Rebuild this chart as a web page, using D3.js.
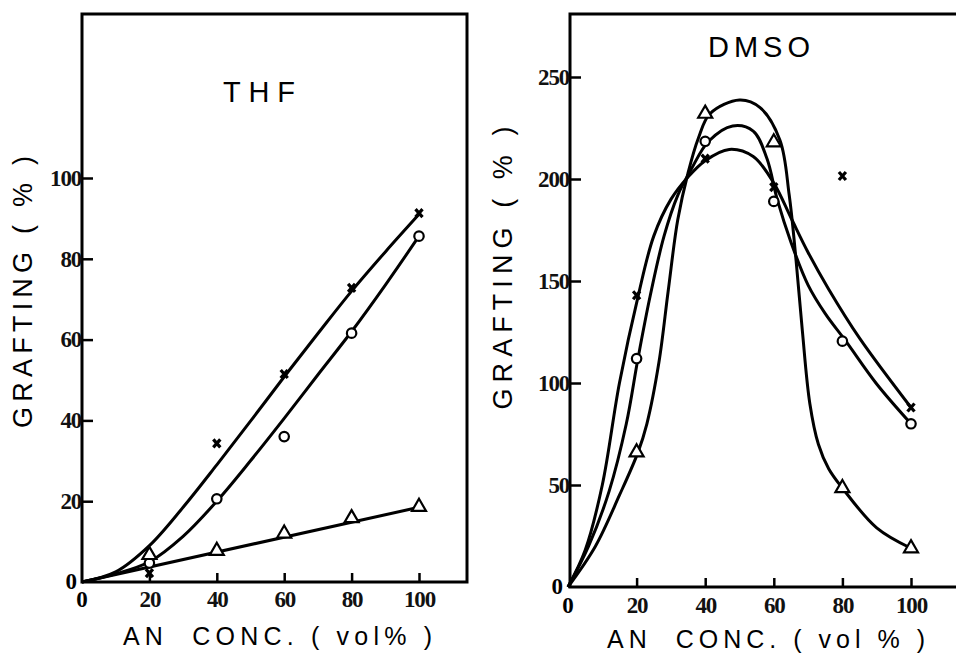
<!DOCTYPE html>
<html>
<head>
<meta charset="utf-8">
<script src="https://cdn.jsdelivr.net/npm/d3@7"></script>
<style>
  body { margin: 0; background: #fff; }
  svg { display: block; }
</style>
</head>
<body>
<div id="chart"></div>
<script>
// AN concentration (vol%) of the measured points
const anConc = [20, 40, 60, 80, 100];

// THF panel, grafting (%)
const thfCross = [2.2, 34.3, 51.5, 72.8, 91.3];
const thfCircle = [4.7, 20.6, 36, 61.6, 85.6];
const thfTriangle = [6.7, 7.7, 12, 15.8, 18.6];
// the hand drawn curves as [conc, grafting]
const thfCrossCurve = [[0, 0], [10, 2.5], [20, 9], [30, 18.5], [40, 29], [50, 39.8], [60, 50.8], [70, 61.5], [80, 72], [90, 81.7], [100, 91]];
const thfCircleCurve = [[0, 0], [10, 2], [20, 5], [30, 11.3], [40, 20], [50, 30], [60, 40.5], [70, 51.3], [80, 62], [90, 73.5], [100, 85.6]];
const thfTriangleCurve = [[0, 0], [100, 18.5]];

// DMSO panel, grafting (%)
const dmsoCross = [143, 210, 196, 201.5, 88];
const dmsoCircle = [112, 218.5, 189, 120.5, 80];
const dmsoTriangle = [66, 232, 218, 48.5, 19];
const dmsoCrossCurve = [[0, 0], [5, 18], [10, 50], [15, 100], [20.5, 143], [25, 172], [30, 190], [35, 201], [40, 209], [47, 214.5], [54, 211], [60, 198], [65, 181], [70, 164], [76, 146], [85, 122], [100, 88]];
const dmsoCircleCurve = [[0, 0], [6, 20], [12, 47], [17, 80], [20.4, 112], [24, 143], [28, 172], [32, 192], [36, 205], [41, 218.5], [48, 226], [54, 223.5], [58, 210], [61, 190], [65, 169], [70, 148], [75, 134], [81, 120.5], [90, 99.5], [100, 80]];
const dmsoTriangleCurve = [[0, 0], [8, 20], [15, 45], [20.4, 66], [23, 80], [26.5, 110], [29.2, 145], [32, 180], [35, 203], [38, 220], [41.4, 232], [50, 238.7], [56, 235], [61.8, 219], [64.5, 192], [66.5, 160], [68.3, 126], [70.5, 90], [73, 70], [76, 58], [80, 48.5], [90, 29], [100, 19]];

// tick labels
const thfYTicks = [20, 40, 60, 80, 100];
const dmsoYTicks = [50, 100, 150, 200, 250];
const xTicks = [20, 40, 60, 80, 100];

const width = 956, height = 653;
const serif = "'Liberation Serif', 'Times New Roman', serif";
const sans = "'Liberation Sans', Arial, sans-serif";

const svg = d3.select("#chart")
    .append("svg")
    .attr("width", width)
    .attr("height", height);

const line = (x, y) => d3.line()
    .x(d => x(d[0]))
    .y(d => y(d[1]))
    .curve(d3.curveCatmullRom.alpha(0.5));

function drawMarkers(g, x, y, values, type) {
    const sel = g.append("g").selectAll("path")
        .data(anConc.map((c, i) => [c, values[i]]))
        .join("path")
        .attr("transform", d => `translate(${x(d[0])},${y(d[1])})`)
        .attr("stroke", "#000")
        .attr("stroke-width", 2.2);
    if (type === "circle") {
        sel.attr("d", d3.symbol(d3.symbolCircle, 70)()).attr("fill", "#fff");
    } else if (type === "triangle") {
        sel.attr("d", d3.symbol(d3.symbolTriangle, 85)()).attr("fill", "#fff");
    } else {
        sel.attr("d", "M-3.5,-4L3.5,4M-3.5,4L3.5,-4").attr("fill", "none").attr("stroke-width", 3.2);
    }
}

function drawPanel(p) {
    const g = svg.append("g");
    const x = d3.scaleLinear().domain([0, 100]).range([p.x0, p.x100]);
    const y = d3.scaleLinear().domain([0, p.yMax]).range([p.y0, p.yTop]);

    // frame
    g.append("rect")
        .attr("x", p.x0 + p.frameDx).attr("y", p.frameTop)
        .attr("width", p.frameRight - p.x0 - p.frameDx)
        .attr("height", p.y0 - p.frameTop)
        .attr("fill", "none").attr("stroke", "#000").attr("stroke-width", 3);

    // inward ticks
    const xAxis = g.append("g")
        .attr("transform", `translate(0,${p.y0})`)
        .call(d3.axisBottom(x).tickValues(xTicks).tickSizeInner(-9).tickSizeOuter(0));
    const yAxis = g.append("g")
        .attr("transform", `translate(${p.x0 + p.frameDx},0)`)
        .call(d3.axisLeft(y).tickValues(p.yTicks).tickSizeInner(-11).tickSizeOuter(0));
    [xAxis, yAxis].forEach(a => {
        a.select(".domain").remove();
        a.selectAll("line").attr("stroke", "#000").attr("stroke-width", 2.5);
        a.selectAll("text")
            .attr("font-family", serif)
            .attr("font-weight", "bold")
            .attr("font-size", 23)
            .attr("letter-spacing", -1.2)
            .attr("fill", "#111");
    });
    yAxis.selectAll("text").attr("x", -1);
    xAxis.selectAll("text").attr("y", p.xLabelDy);

    // zero labels
    g.append("text").attr("x", p.x0 + p.frameDx - p.zeroDx).attr("y", p.y0 + 7)
        .attr("text-anchor", "end").attr("font-family", serif)
        .attr("font-weight", "bold").attr("font-size", 23).text("0");
    g.append("text").attr("x", x(0)).attr("y", p.y0 + p.xLabelDy + 16)
        .attr("text-anchor", "middle").attr("font-family", serif)
        .attr("font-weight", "bold").attr("font-size", 23).text("0");

    // curves
    p.curves.forEach(c => {
        g.append("path")
            .attr("d", line(x, y)(c))
            .attr("fill", "none").attr("stroke", "#000").attr("stroke-width", 3);
    });

    drawMarkers(g, x, y, p.cross, "cross");
    drawMarkers(g, x, y, p.circle, "circle");
    drawMarkers(g, x, y, p.triangle, "triangle");

    // solvent label
    g.append("text")
        .attr("x", p.title[0]).attr("y", p.title[1])
        .attr("text-anchor", "middle")
        .attr("font-family", sans).attr("font-size", 29)
        .attr("textLength", p.title[2]).attr("lengthAdjust", "spacing")
        .text(p.titleText);
    // y title
    g.append("text")
        .attr("transform", `translate(${p.yTitle[0]},${p.yTitle[1]}) rotate(-90)`)
        .attr("text-anchor", "middle")
        .attr("dominant-baseline", "central")
        .attr("font-family", sans).attr("font-size", 27)
        .attr("textLength", p.yTitle[2]).attr("lengthAdjust", "spacing")
        .style("white-space", "pre")
        .text("GRAFTING ( % )");
    // x title
    g.append("text")
        .attr("x", p.xTitle[0]).attr("y", p.xTitle[1])
        .attr("font-family", sans).attr("font-size", 25)
        .attr("textLength", p.xTitle[2]).attr("lengthAdjust", "spacing")
        .style("white-space", "pre")
        .text(p.xTitleText);
}

drawPanel({
    x0: 82, x100: 419, frameDx: 0, frameRight: 467, frameTop: 14,
    y0: 582, yTop: 178, yMax: 100, yTicks: thfYTicks,
    xLabelDy: 9, zeroDx: 5,
    curves: [thfCrossCurve, thfCircleCurve, thfTriangleCurve],
    cross: thfCross, circle: thfCircle, triangle: thfTriangle,
    titleText: "THF", title: [259, 102, 72],
    yTitle: [23, 292, 272],
    xTitleText: "AN  CONC. ( vol% )", xTitle: [123, 645, 309]
});

drawPanel({
    x0: 568, x100: 911, frameDx: 2, frameRight: 1000, frameTop: 14,
    y0: 587, yTop: 77, yMax: 250, yTicks: dmsoYTicks,
    xLabelDy: 10, zeroDx: 7,
    curves: [dmsoCrossCurve, dmsoCircleCurve, dmsoTriangleCurve],
    cross: dmsoCross, circle: dmsoCircle, triangle: dmsoTriangle,
    titleText: "DMSO", title: [759, 57, 102],
    yTitle: [503, 268, 283],
    xTitleText: "AN  CONC. ( vol % )", xTitle: [607, 648, 318]
});
</script>
</body>
</html>
